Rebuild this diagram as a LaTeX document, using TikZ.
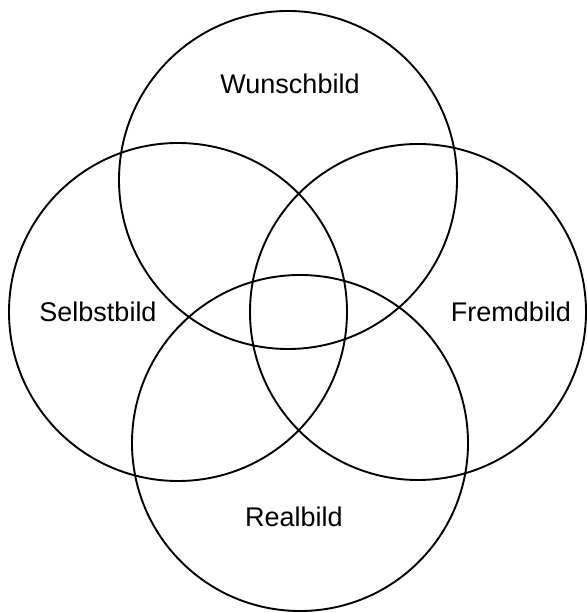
\documentclass[tikz,border=0pt]{standalone}
\usepackage{fontspec}
\setmainfont{Liberation Sans}
\usepackage{tikz}
\usetikzlibrary{positioning}

\begin{document}
\begin{tikzpicture}[x=1pt, y=1pt]
  % frame of the picture, 587 x 613
  \useasboundingbox (0,0) rectangle (587,613);
  % the four circles
  \draw[line width=1.9pt] (288,433) circle (169);
  \draw[line width=1.9pt] (178,301) circle (169);
  \draw[line width=1.9pt] (418,301) circle (168);
  \draw[line width=1.9pt] (300,170) circle (168);
  % labels
  \node[font=\fontsize{27}{30}\selectfont] (wunsch) at (290,529) {Wunschbild};
  \node[font=\fontsize{27}{30}\selectfont] (selbst) at (98,301) {Selbstbild};
  \node[font=\fontsize{27}{30}\selectfont] (fremd) at (511,301) {Fremdbild};
  \node[font=\fontsize{27}{30}\selectfont] (real) at (294,96) {Realbild};
\end{tikzpicture}
\end{document}
